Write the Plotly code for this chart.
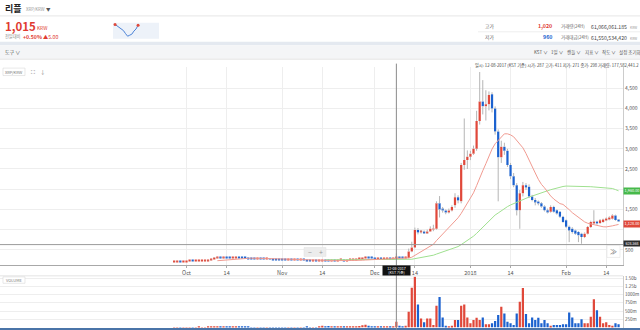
import pandas as pd
import numpy as np
import plotly.graph_objects as go

FONT = "Noto Sans CJK KR, Noto Sans, sans-serif"
RED = "#e0483a"
BLUE = "#1c62cf"
GRID = "#eeeeee"

# ---------------- data (daily candles, KRW) ----------------
start_date = "2017-09-27"

open_ = [190, 195, 200, 198,
         205, 210, 215, 212, 218, 222, 226, 230, 240, 262, 300, 315, 305, 310, 300, 295, 305, 318, 300, 290,
         285, 280, 272, 268, 270, 265, 260, 262, 258, 255, 250,
         248, 245, 240, 242, 238, 240, 236, 238, 235, 232, 228, 230, 226, 230, 233, 230, 228, 232, 230, 234,
         236, 232, 235, 240, 255, 262, 270, 285, 320, 300,
         285, 278, 280, 276, 280, 282, 279, 287, 298, 292, 285,
         300, 460, 560, 990, 930, 950, 920, 950, 1000, 1020, 1650, 1500, 1470, 1430, 1470, 1600, 1800, 1700,
         2600, 2720,
         2800, 2880, 3000, 3690, 4170, 4050, 4100, 4350, 4000, 3430, 2790, 3050, 2950, 2600, 2320, 2100, 1480,
         1900, 2100, 2060, 1820, 1730, 1690, 1650, 1570, 1480, 1440, 1560, 1480, 1440, 1320,
         1230, 1070, 1020, 980, 940, 900, 815, 900, 1065, 1165, 1190, 1165, 1190, 1230, 1250, 1270, 1350, 1240]

high = [200, 205, 204, 208,
        213, 220, 218, 222, 226, 230, 235, 248, 275, 320, 325, 318, 315, 312, 304, 310, 330, 320, 305, 292,
        288, 283, 275, 276, 272, 268, 266, 264, 262, 258, 254,
        252, 248, 246, 244, 244, 242, 242, 240, 238, 235, 234, 232, 234, 238, 236, 234, 236, 235, 238, 240,
        239, 238, 244, 260, 268, 276, 292, 335, 325, 305,
        290, 285, 284, 284, 288, 286, 292, 411, 302, 296, 305,
        530, 700, 1050, 1040, 990, 980, 1000, 1080, 1120, 1700, 1830, 1560, 1500, 1520, 1600, 1900, 1850, 2650,
        3750, 2960,
        2950, 3080, 3940, 4900, 4700, 4450, 4420, 4400, 4050, 3480, 3200, 3150, 3000, 2650, 2400, 2150, 1980,
        2180, 2150, 2120, 1860, 1780, 1720, 1680, 1600, 1520, 1600, 1590, 1500, 1460, 1340,
        1250, 1100, 1060, 1000, 960, 920, 930, 1090, 1220, 1480, 1220, 1260, 1270, 1300, 1330, 1380, 1370, 1260]

low = [186, 192, 194, 195,
       202, 206, 208, 209, 214, 219, 222, 226, 236, 255, 292, 298, 300, 296, 290, 292, 300, 296, 286, 280,
       276, 268, 262, 264, 261, 256, 257, 254, 250, 246, 243,
       240, 236, 236, 233, 235, 232, 233, 231, 228, 224, 225, 222, 223, 226, 226, 224, 225, 226, 228, 231,
       228, 229, 232, 238, 252, 259, 266, 282, 295, 280,
       272, 274, 272, 273, 276, 274, 276, 271, 286, 280, 282,
       290, 440, 540, 880, 900, 900, 900, 940, 960, 1000, 1300, 1420, 1380, 1400, 1450, 1540, 1650, 1650,
       2480, 2500,
       2720, 2850, 2950, 3600, 3850, 3700, 3950, 3900, 3350, 1700, 2650, 2850, 2550, 2250, 2050, 1350, 1020,
       1820, 1980, 1780, 1700, 1600, 1600, 1540, 1450, 1400, 1420, 1420, 1370, 1290, 1170,
       1040, 690, 900, 870, 690, 650, 790, 880, 1040, 1140, 1120, 1140, 1170, 1210, 1230, 1250, 1220, 1190]

close = [195, 200, 198, 205,
         210, 215, 212, 218, 222, 226, 230, 240, 262, 300, 315, 305, 310, 300, 295, 305, 318, 300, 290, 285,
         280, 272, 268, 270, 265, 260, 262, 258, 255, 250, 248,
         245, 240, 242, 238, 240, 236, 238, 235, 232, 228, 230, 226, 230, 233, 230, 228, 232, 230, 234, 236,
         232, 235, 240, 255, 262, 270, 285, 320, 300, 285,
         278, 280, 276, 280, 282, 279, 287, 298, 292, 285, 300,
         460, 560, 990, 930, 950, 920, 950, 1020, 1020, 1650, 1500, 1470, 1430, 1470, 1560, 1800, 1720, 2600,
         2720, 2800,
         2880, 3000, 3690, 4170, 4050, 4100, 4330, 4000, 3430, 2790, 3050, 2950, 2600, 2320, 2100, 1480, 1900,
         2100, 2060, 1820, 1730, 1690, 1650, 1570, 1480, 1440, 1560, 1440, 1400, 1320, 1190,
         1070, 980, 940, 900, 860, 815, 900, 1065, 1190, 1190, 1150, 1230, 1250, 1270, 1300, 1350, 1240, 1210]

# volume in millions of XRP
volume_m = [6, 5, 7, 6,
            8, 7, 6, 8, 9, 7, 8, 12, 25, 30, 28, 20, 15, 14, 12, 16, 22, 15, 12, 10, 9, 8, 8, 7, 8, 7, 6, 7, 6, 7, 8,
            6, 7, 6, 7, 6, 8, 7, 6, 9, 8, 7, 6, 9, 60, 25, 50, 20, 15, 20, 25, 20, 30, 25, 45, 40, 50, 70, 85, 60, 45,
            35, 30, 25, 30, 35, 30, 45, 177.58, 55, 40, 60,
            480, 1210, 1540, 700, 280, 160, 280, 280, 80, 660, 930, 310, 60, 30, 60, 230, 230, 660, 700, 310,
            130, 230, 300, 230, 310, 100, 100, 130, 200, 380, 630, 430, 180, 130, 80, 430, 780, 1200, 410, 130,
            310, 230, 300, 130, 230, 130, 60, 80, 80, 80, 100,
            100, 460, 310, 130, 130, 250, 130, 130, 330, 860, 530, 330, 130, 160, 80, 60, 130, 100]

ma_short, ma_long = 15, 50

x_tick_vals = ["2017-10-01", "2017-10-14", "2017-11-01", "2017-11-14", "2017-12-01",
               "2017-12-14", "2018-01-01", "2018-01-14", "2018-02-01", "2018-02-14"]
x_tick_text = ["Oct", "14", "Nov", "14", "Dec", "14", "2018", "14", "Feb", "14"]
y_tick_vals = [500, 1000, 1500, 2000, 2500, 3000, 3500, 4000, 4500]
y_tick_text = ["500", "", "1,500", "", "2,500", "3,000", "3,500", "4,000", "4,500"]
v_tick_vals = [250, 500, 750, 1000, 1250, 1500]
v_tick_text = ["250m", "500m", "750m", "1000m", "1.25b", "1.50b"]

cross_date = "2017-12-08"
cross_price = 628.568

spark_vals = [1018, 1012, 1005, 998, 994, 982, 972, 976, 980, 992, 1000, 1015]

# ---------------- derived frame ----------------
dates = pd.date_range(start_date, periods=len(close), freq="D")
df = pd.DataFrame(dict(o=open_, h=high, l=low, c=close, v=volume_m), index=dates)
up = df.c >= df.o
colors = np.where(up, RED, BLUE)
body_base = np.minimum(df.o, df.c)
body_h = np.maximum((df.c - df.o).abs(), 24)
ma_s = df.c.rolling(ma_short).mean()
ma_l = df.c.rolling(ma_long).mean()

wx, wy = [], []
for d, o, h, l, c in zip(df.index, df.o, df.h, df.l, df.c):
    top, bot = max(o, c), min(o, c)
    if h > top:
        wx += [d, d, None]; wy += [top, h, None]
    if l < bot:
        wx += [d, d, None]; wy += [l, bot, None]

DAY = 86400000
fig = go.Figure()
fig.add_trace(go.Scatter(x=df.index, y=ma_l, mode="lines", line=dict(color="#9fe08f", width=1),
                         xaxis="x", yaxis="y", hoverinfo="skip"))
fig.add_trace(go.Scatter(x=df.index, y=ma_s, mode="lines", line=dict(color="#f09a90", width=1),
                         xaxis="x", yaxis="y", hoverinfo="skip"))
fig.add_trace(go.Bar(x=df.index, y=body_h, base=body_base, marker=dict(color=colors, line=dict(width=0)),
                     width=0.72 * DAY, xaxis="x", yaxis="y", hoverinfo="skip"))
fig.add_trace(go.Scatter(x=wx, y=wy, mode="lines", line=dict(color="#b5b5b5", width=1),
                         xaxis="x", yaxis="y", hoverinfo="skip"))
fig.add_trace(go.Bar(x=df.index, y=df.v, marker=dict(color=colors, line=dict(width=0)),
                     width=0.72 * DAY, xaxis="x2", yaxis="y2", hoverinfo="skip"))
# sparkline
sx = list(range(len(spark_vals)))
fig.add_trace(go.Scatter(x=sx, y=spark_vals, mode="lines", line=dict(color="#4b82d6", width=1),
                         xaxis="x3", yaxis="y3", hoverinfo="skip"))
fig.add_trace(go.Scatter(x=[sx[0], sx[-1]], y=[spark_vals[0], spark_vals[-1]], mode="markers",
                         marker=dict(color=RED, size=3), xaxis="x3", yaxis="y3", hoverinfo="skip"))

PW, FH = 623.0, 330.0
def X(px): return px / PW
def Y(py): return 1 - py / FH

x_range = ["2017-08-01 13:40", "2018-02-19 10:30"]

fig.update_layout(
    width=640, height=330, margin=dict(l=0, r=17, t=0, b=0),
    paper_bgcolor="white", plot_bgcolor="white", showlegend=False,
    font=dict(family=FONT, color="#555"), hovermode=False, barmode="overlay",
    xaxis=dict(domain=[0, 1], anchor="y", type="date", range=x_range, tickmode="array",
               tickvals=x_tick_vals, ticktext=x_tick_text, tickfont=dict(size=5.5, color="#555"),
               showgrid=True, gridcolor=GRID, showline=True, linecolor="#a8a8a8", linewidth=1,
               ticks="outside", ticklen=2, tickcolor="#aaa", zeroline=False, fixedrange=True),
    yaxis=dict(domain=[Y(265), Y(65)], anchor="x", side="right", range=[114, 5034], tickmode="array",
               tickvals=y_tick_vals, ticktext=y_tick_text, tickfont=dict(size=5, color="#555"),
               showgrid=True, gridcolor=GRID, showline=True, linecolor="#cccccc", zeroline=False,
               ticks="", fixedrange=True),
    xaxis2=dict(domain=[0, 1], anchor="y2", type="date", range=x_range, matches="x",
                showticklabels=False, showgrid=False, zeroline=False, showline=False, fixedrange=True),
    yaxis2=dict(domain=[Y(327.6), Y(276)], anchor="x2", side="right", range=[0, 1554], tickmode="array",
                tickvals=v_tick_vals, ticktext=v_tick_text, tickfont=dict(size=4.5, color="#555"),
                showgrid=True, gridcolor=GRID, showline=True, linecolor="#cccccc", zeroline=False,
                ticks="", fixedrange=True),
    xaxis3=dict(domain=[X(113), X(159)], anchor="y3", range=[-1, 21], visible=False, fixedrange=True),
    yaxis3=dict(domain=[Y(37), Y(21)], anchor="x3", range=[962, 1024], visible=False, fixedrange=True),
)

shapes = []
def rect(x0, y0, x1, y1, fill, line=None, lw=0):
    shapes.append(dict(type="rect", xref="paper", yref="paper", x0=X(x0), x1=X(x1), y0=Y(y1), y1=Y(y0),
                       fillcolor=fill, line=dict(color=line or fill, width=lw), layer="below"))
def hline(x0, x1, y, color, w=1):
    shapes.append(dict(type="line", xref="paper", yref="paper", x0=X(x0), x1=X(x1), y0=Y(y), y1=Y(y),
                       line=dict(color=color, width=w)))

hline(0, 640, 14, "#e6e6e6")
rect(0, 40, 640, 43.5, "#e4e9f0")
rect(0, 43.5, 640, 57, "#f4f5f7")
hline(0, 640, 57.5, "#e2e2e2")
hline(478, 640, 30, "#eeeeee")
rect(113, 21, 159, 37, "#edf2f9")
hline(0, 623, 275.5, "#e4e4e4")
rect(0, 328, 640, 330, "#4a74a8")
# crosshair
shapes.append(dict(type="line", xref="x", yref="paper", x0=cross_date, x1=cross_date, y0=0, y1=Y(62),
                   line=dict(color="#8a8a8a", width=1)))
shapes.append(dict(type="line", xref="paper", yref="y", x0=0, x1=1, y0=cross_price, y1=cross_price,
                   line=dict(color="#9a9a9a", width=1)))
# zoom control & scroll button
shapes.append(dict(type="rect", xref="paper", yref="paper", x0=X(304), x1=X(326), y0=Y(256), y1=Y(247),
                   fillcolor="#ececec", line=dict(color="#e0e0e0", width=0.5)))
shapes.append(dict(type="rect", xref="paper", yref="paper", x0=X(607), x1=X(620), y0=Y(257), y1=Y(245),
                   fillcolor="white", line=dict(color="#dddddd", width=0.5)))
# small boxes
shapes.append(dict(type="rect", xref="paper", yref="paper", x0=X(3), x1=X(25), y0=Y(74), y1=Y(66.5),
                   fillcolor="white", line=dict(color="#d8d8d8", width=0.6)))
shapes.append(dict(type="rect", xref="paper", yref="paper", x0=X(3), x1=X(25), y0=Y(283), y1=Y(276.5),
                   fillcolor="white", line=dict(color="#d8d8d8", width=0.6)))
fig.update_layout(shapes=shapes)

ann = []
def txt(x, y, text, size, color="#555", anchor="left", bg=None, w=None, h=None, bold=False, yref="paper", xref="paper"):
    a = dict(x=X(x) if xref == "paper" else x, y=Y(y) if yref == "paper" else y, xref=xref, yref=yref,
             text=f"<b>{text}</b>" if bold else text, showarrow=False, xanchor=anchor, yanchor="middle",
             font=dict(size=size, color=color, family=FONT), borderpad=0)
    if bg:
        a.update(bgcolor=bg)
    if w:
        a.update(width=w, align="center")
    if h:
        a.update(height=h)
    ann.append(a)

txt(4, 7, "리플", 9, "#222", bold=True)
txt(24.5, 7.5, "XRP/KRW", 4.3, "#9a9a9a")
txt(45, 7.5, "▼", 4.5, "#555")
txt(3.5, 24, "1,015", 11.5, "#e03a30", bold=True)
txt(36, 26, "KRW", 4.8, "#e03a30")
txt(4, 34.5, "전일대비", 4.2, "#888")
txt(21.5, 34.5, "+0.50%", 5.2, "#e03a30", bold=True)
txt(42, 34.5, "▲5.00", 5.2, "#e03a30")

txt(484, 24.5, "고가", 4.8, "#666")
txt(553, 24.5, "1,020", 5.3, "#e03a30", anchor="right", bold=True)
txt(560, 24.5, "거래량(24H)", 4.5, "#666")
txt(628, 24.5, "61,066,061.185", 5.2, "#444", anchor="right")
txt(628.5, 25.5, "KRW", 3.3, "#999")
txt(484, 35.5, "저가", 4.8, "#666")
txt(553, 35.5, "960", 5.3, BLUE, anchor="right", bold=True)
txt(560, 35.5, "거래대금(24H)", 4.5, "#666")
txt(628, 35.5, "61,550,534,420", 5.2, "#444", anchor="right")
txt(628.5, 36.5, "KRW", 3.3, "#999")

txt(4, 50.5, "도구 ∨", 5, "#555")
txt(533, 50.5, "KST ∨", 4.5, "#555")
txt(550, 50.5, "1일 ∨", 4.5, "#555")
txt(566, 50.5, "캔들 ∨", 4.5, "#555")
txt(584, 50.5, "지표 ∨", 4.5, "#555")
txt(601, 50.5, "작도 ∨", 4.5, "#555")
txt(618, 50.5, "설정 초기화", 4.5, "#555")

txt(14, 70.3, "XRP/KRW", 4, "#777", anchor="center")
txt(33, 70, "⛶", 5.5, "#666", anchor="center")
txt(43, 70, "↓", 5.5, "#888", anchor="center")
txt(640, 63.5, "일시: 12-08-2017 (KST 기준) 시가: 287 고가: 411 저가: 271 종가: 298 거래량: 177,582,441.2",
    4.2, "#444", anchor="right")
txt(14, 279.8, "VOLUME", 4, "#777", anchor="center")

txt(309.5, 251.5, "−", 7, "#999", anchor="center")
txt(320.5, 251.5, "+", 7, "#999", anchor="center")
txt(613.5, 251, "≫", 7, "#666", anchor="center")

# date label of crosshair
ann.append(dict(x=cross_date, xref="x", y=Y(270.5), yref="paper", text="12-08-2017<br>(KST 기준)",
                showarrow=False, xanchor="center", yanchor="middle", bgcolor="#111", width=27, height=9,
                font=dict(size=3.6, color="white", family=FONT), borderpad=0, align="center"))
# right-axis value labels
def vlabel(v, text, bg, shift=0, h=5.5, fs=3.8):
    ann.append(dict(x=1.0, xref="paper", y=v, yref="y", text=text, showarrow=False, xanchor="left",
                    yanchor="middle", bgcolor=bg, width=16, height=h, yshift=shift,
                    font=dict(size=fs, color="white", family=FONT), borderpad=0, align="center"))
vlabel(ma_l.iloc[-1], f"{ma_l.iloc[-1]:,.2f}", "#46b94a")
vlabel(ma_s.iloc[-1], f"{ma_s.iloc[-1]:,.2f}", "#e0483a")
vlabel(cross_price, f"{cross_price:,.3f}", "#2b2b2b", shift=1.5, h=5, fs=3.6)

fig.update_layout(annotations=ann)
fig.write_html("out.html", config={"displayModeBar": False})
